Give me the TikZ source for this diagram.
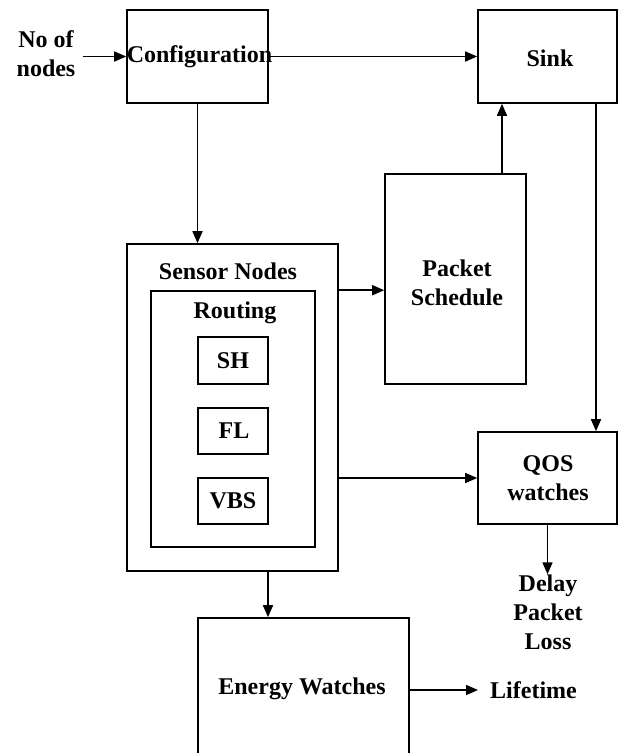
\documentclass[tikz,border=0pt]{standalone}
\usepackage{fontspec}
\setmainfont{Liberation Serif}
\usetikzlibrary{arrows.meta,calc}
\begin{document}
\begin{tikzpicture}[x=1pt,y=1pt,
  box/.style={draw, line width=1.6pt, inner sep=0pt},
  txt/.style={font=\bfseries\fontsize{24}{29}\selectfont, align=center, inner sep=0pt},
  arr/.style={line width=1.6pt, -{Triangle[length=12pt,width=10pt]}}]
\useasboundingbox (0,0) rectangle (619,-753);
% boxes
\node[box, minimum width=141pt, minimum height=93pt] (cfg) at (197.5,-56.5) {};
\node[txt] (cfgt) at (199.5,-57) {Configuration};
\node[box, minimum width=139pt, minimum height=93pt] (sink) at (547.5,-56.5) {};
\node[txt] (sinkt) at (550,-58) {Sink};
\node[box, minimum width=141pt, minimum height=210pt] (pkt) at (455.5,-279) {};
\node[txt] (pktt) at (457,-283) {Packet\\Schedule};
\node[box, minimum width=211pt, minimum height=327pt] (sensor) at (232.5,-407.5) {};
\node[txt] (sensort) at (228,-271) {Sensor Nodes};
\node[box, minimum width=164pt, minimum height=256pt] (routing) at (233,-419) {};
\node[txt] (routingt) at (235,-313) {Routing};
\node[box, minimum width=70pt, minimum height=47pt] (sh) at (233,-360.5) {};
\node[txt] (sht) at (233,-361) {SH};
\node[box, minimum width=70pt, minimum height=46pt] (fl) at (233,-431) {};
\node[txt] (flt) at (234,-431) {FL};
\node[box, minimum width=70pt, minimum height=46pt] (vbs) at (233,-501) {};
\node[txt] (vbst) at (233,-501) {VBS};
\node[box, minimum width=139pt, minimum height=92pt] (qos) at (547.5,-478) {};
\node[txt] (qost) at (548,-478) {QOS\\watches};
\node[box, minimum width=211pt, minimum height=142pt] (energy) at (303.5,-689) {};
\node[txt] (energyt) at (302,-689) {Energy Watches};
% free texts
\node[txt] (noof) at (46,-54) {No of\\nodes};
\node[txt] (delay) at (548,-612) {Delay\\Packet\\Loss};
\node[txt, anchor=west, inner xsep=12pt] (life) at (478,-690) {Lifetime};
% connectors
\draw[arr] ([xshift=7pt]noof.east |- cfg.west) -- (cfg.west);
\draw[arr] (cfg.east) -- (sink.west);
\draw[arr] (cfg.south) -- (cfg.south |- sensor.north);
\draw[arr] ([xshift=46.5pt]pkt.north) -- ([xshift=46.5pt]pkt.north |- sink.south);
\draw[arr] (sensor.east |- routing.north) -- (pkt.west |- routing.north);
\draw[arr] ([xshift=48.5pt]sink.south) -- ([xshift=48.5pt]sink.south |- qos.north);
\draw[arr] (sensor.east |- qos.west) -- (qos.west);
\draw[arr] (qos.south) -- (qos.south |- delay.north);
\draw[arr] ([xshift=35.5pt]sensor.south) -- ([xshift=35.5pt]sensor.south |- energy.north);
\draw[arr] (energy.east |- life.west) -- (life.west);
\end{tikzpicture}
\end{document}
